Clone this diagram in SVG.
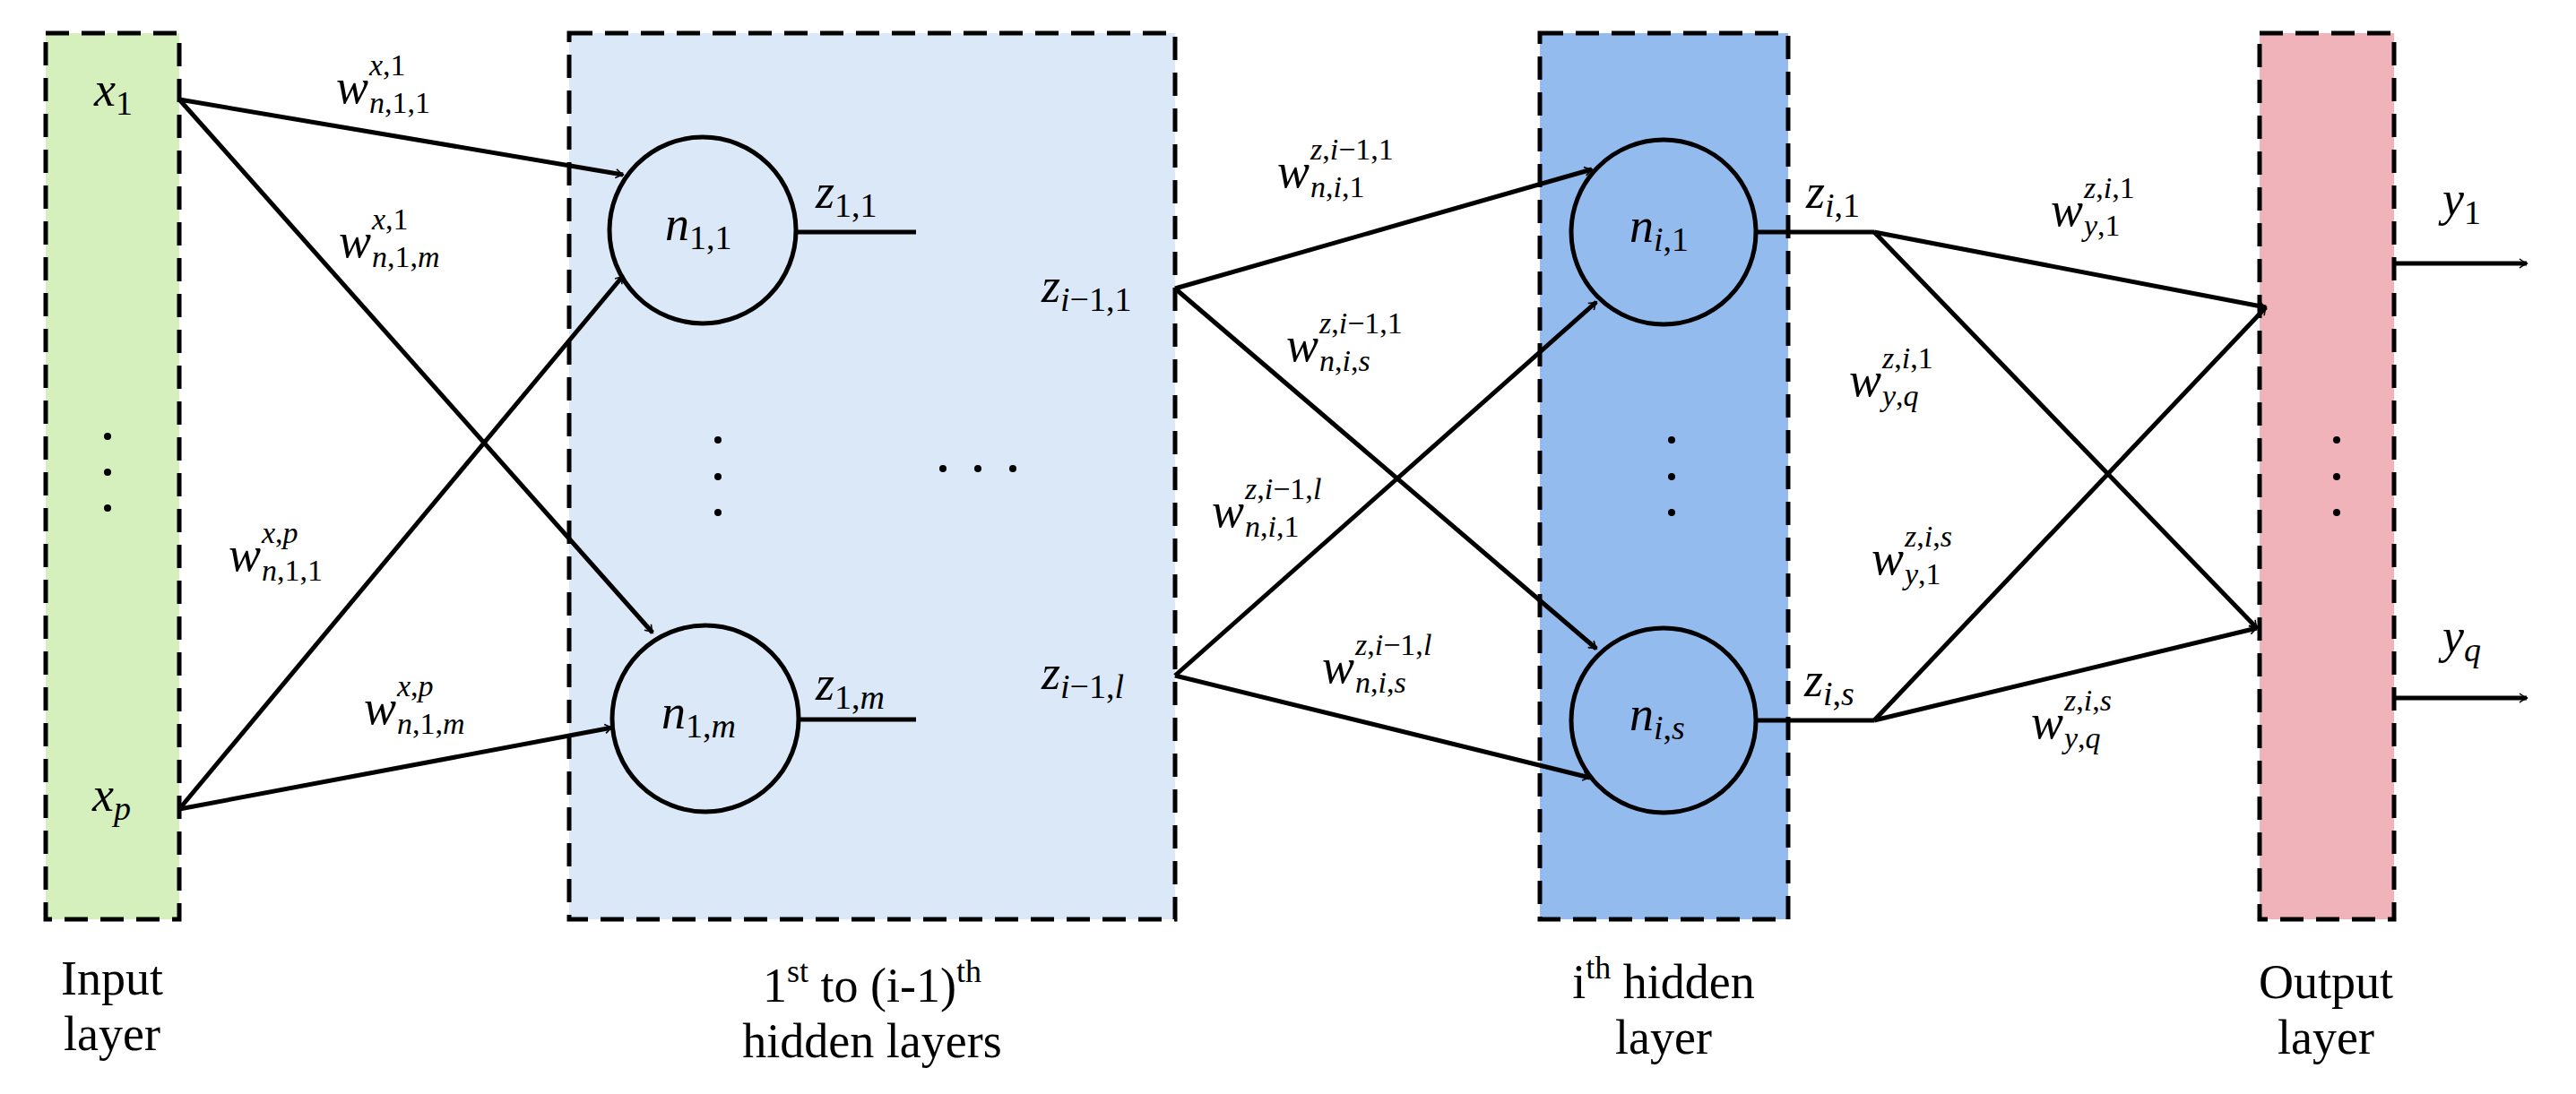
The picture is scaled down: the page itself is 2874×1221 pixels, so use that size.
<svg xmlns="http://www.w3.org/2000/svg" width="2874" height="1221" viewBox="0 0 2874 1221">
<style>
.box{stroke:#000;stroke-width:5;stroke-dasharray:26 14}
.ln{stroke:#000;stroke-width:5;fill:none}
.ar{stroke:#000;stroke-width:5;fill:none;marker-end:url(#ah)}
.nd{stroke:#000;stroke-width:5}
text{font-family:"Liberation Serif","DejaVu Serif",serif;fill:#000}
.m{font-size:54px;font-style:italic}
.s{font-size:38px;font-style:italic}
.t{font-size:34px;font-style:italic}
.r{font-style:normal}
.lb{font-size:54px;text-anchor:middle}
.dot{fill:#000}
</style>
<defs>
<marker id="ah" markerWidth="12" markerHeight="12" refX="9" refY="6" orient="auto" markerUnits="userSpaceOnUse" viewBox="0 0 12 12">
<path d="M1,1 Q6,5 10,6 Q6,7 1,11" fill="none" stroke="#000" stroke-width="1.6" transform="scale(1)"/>
</marker>
</defs>
<g id="input-layer">
<rect class="box" x="51" y="37" width="149" height="989" fill="#d5f0bd"/>
<text class="m" x="105" y="118">x<tspan class="s r" dy="10">1</tspan></text>
<text class="m" x="103" y="905">x<tspan class="s" dy="10">p</tspan></text>
<circle class="dot" cx="120" cy="487" r="4"/><circle class="dot" cx="120" cy="527" r="4"/><circle class="dot" cx="120" cy="567" r="4"/>
<text class="lb" x="125" y="1110">Input</text>
<text class="lb" x="125" y="1172">layer</text>
</g>
<g id="hidden-1">
<rect class="box" x="635" y="37" width="676" height="989" fill="#dbe8f8"/>
<circle class="dot" cx="801" cy="491" r="4"/><circle class="dot" cx="801" cy="532" r="4"/><circle class="dot" cx="801" cy="572" r="4"/>
<circle class="dot" cx="1052" cy="523" r="4"/><circle class="dot" cx="1091" cy="523" r="4"/><circle class="dot" cx="1130" cy="523" r="4"/>
<text class="m" x="910" y="232">z<tspan class="s r" dy="10">1,1</tspan></text>
<text class="m" x="910" y="781">z<tspan class="s" dy="10"><tspan class="r">1,</tspan>m</tspan></text>
<text class="m" x="1162" y="337">z<tspan class="s" dy="10">i<tspan class="r">−1,1</tspan></tspan></text>
<text class="m" x="1162" y="769">z<tspan class="s" dy="10">i<tspan class="r">−1,</tspan>l</tspan></text>
<text class="lb" x="973" y="1118">1<tspan font-size="36" dy="-22">st</tspan><tspan dy="22"> to (i-1)</tspan><tspan font-size="36" dy="-22">th</tspan></text>
<text class="lb" x="973" y="1180">hidden layers</text>
</g>
<g id="node-n11">
<circle class="nd" cx="784" cy="257" r="104" fill="#dbe8f8"/>
<text class="m" x="742" y="268">n<tspan class="s r" dy="10">1,1</tspan></text>
</g>
<g id="node-n1m">
<circle class="nd" cx="787" cy="802" r="104" fill="#dbe8f8"/>
<text class="m" x="738" y="813">n<tspan class="s" dy="10"><tspan class="r">1,</tspan>m</tspan></text>
</g>
<g id="hidden-i">
<rect class="box" x="1718" y="37" width="277" height="989" fill="#93bbed"/>
<circle class="dot" cx="1865" cy="491" r="4"/><circle class="dot" cx="1865" cy="532" r="4"/><circle class="dot" cx="1865" cy="572" r="4"/>
<text class="m" x="2015" y="232">z<tspan class="s" dy="10">i<tspan class="r">,1</tspan></tspan></text>
<text class="m" x="2013" y="777">z<tspan class="s" dy="10">i<tspan class="r">,</tspan>s</tspan></text>
<text class="lb" x="1856" y="1114">i<tspan font-size="36" dy="-22">th</tspan><tspan dy="22"> hidden</tspan></text>
<text class="lb" x="1856" y="1176">layer</text>
</g>
<g id="node-ni1">
<circle class="nd" cx="1856" cy="259" r="103" fill="#93bbed"/>
<text class="m" x="1818" y="270">n<tspan class="s" dy="10">i<tspan class="r">,1</tspan></tspan></text>
</g>
<g id="node-nis">
<circle class="nd" cx="1856" cy="804" r="103" fill="#93bbed"/>
<text class="m" x="1818" y="815">n<tspan class="s" dy="10">i<tspan class="r">,</tspan>s</tspan></text>
</g>
<g id="output-layer">
<rect class="box" x="2521" y="37" width="150" height="989" fill="#f0b3b9"/>
<circle class="dot" cx="2607" cy="491" r="4"/><circle class="dot" cx="2607" cy="532" r="4"/><circle class="dot" cx="2607" cy="572" r="4"/>
<text class="m" x="2725" y="240">y<tspan class="s r" dy="10">1</tspan></text>
<text class="m" x="2725" y="728">y<tspan class="s" dy="10">q</tspan></text>
<text class="lb" x="2595" y="1114">Output</text>
<text class="lb" x="2595" y="1176">layer</text>
</g>
<g id="connectors">
<line class="ar" x1="200" y1="111" x2="695" y2="195"/>
<line class="ar" x1="200" y1="111" x2="728" y2="706"/>
<line class="ar" x1="200" y1="903" x2="695" y2="308"/>
<line class="ar" x1="200" y1="903" x2="683" y2="812"/>
<line class="ln" x1="888" y1="259" x2="1022" y2="259"/>
<line class="ln" x1="891" y1="803" x2="1022" y2="803"/>
<line class="ar" x1="1311" y1="322" x2="1776" y2="189"/>
<line class="ar" x1="1311" y1="322" x2="1781" y2="724"/>
<line class="ar" x1="1311" y1="754" x2="1781" y2="337"/>
<line class="ar" x1="1311" y1="754" x2="1774" y2="868"/>
<line class="ln" x1="1959" y1="259" x2="2091" y2="259"/>
<line class="ln" x1="1959" y1="804" x2="2091" y2="804"/>
<line class="ar" x1="2091" y1="259" x2="2528" y2="343"/>
<line class="ar" x1="2091" y1="259" x2="2518" y2="701"/>
<line class="ar" x1="2091" y1="804" x2="2528" y2="343"/>
<line class="ar" x1="2091" y1="804" x2="2518" y2="701"/>
<line class="ar" x1="2671" y1="294" x2="2819" y2="294"/>
<line class="ar" x1="2671" y1="779" x2="2819" y2="779"/>
</g>
<g id="weight-labels">
<text class="m" x="375" y="115">w</text><text class="t" x="412" y="84">x<tspan class="r">,1</tspan></text><text class="t" x="412" y="126">n<tspan class="r">,1,1</tspan></text>
<text class="m" x="378" y="287">w</text><text class="t" x="415" y="256">x<tspan class="r">,1</tspan></text><text class="t" x="415" y="298">n<tspan class="r">,1,</tspan>m</text>
<text class="m" x="255" y="637">w</text><text class="t" x="292" y="606">x<tspan class="r">,</tspan>p</text><text class="t" x="292" y="648">n<tspan class="r">,1,1</tspan></text>
<text class="m" x="406" y="808">w</text><text class="t" x="443" y="777">x<tspan class="r">,</tspan>p</text><text class="t" x="443" y="819">n<tspan class="r">,1,</tspan>m</text>
<text class="m" x="1425" y="209">w</text><text class="t" x="1462" y="178">z<tspan class="r">,</tspan>i<tspan class="r">−1,1</tspan></text><text class="t" x="1462" y="220">n<tspan class="r">,</tspan>i<tspan class="r">,1</tspan></text>
<text class="m" x="1435" y="403">w</text><text class="t" x="1472" y="372">z<tspan class="r">,</tspan>i<tspan class="r">−1,1</tspan></text><text class="t" x="1472" y="414">n<tspan class="r">,</tspan>i<tspan class="r">,</tspan>s</text>
<text class="m" x="1352" y="588">w</text><text class="t" x="1389" y="557">z<tspan class="r">,</tspan>i<tspan class="r">−1,</tspan>l</text><text class="t" x="1389" y="599">n<tspan class="r">,</tspan>i<tspan class="r">,1</tspan></text>
<text class="m" x="1475" y="762">w</text><text class="t" x="1512" y="731">z<tspan class="r">,</tspan>i<tspan class="r">−1,</tspan>l</text><text class="t" x="1512" y="773">n<tspan class="r">,</tspan>i<tspan class="r">,</tspan>s</text>
<text class="m" x="2288" y="252">w</text><text class="t" x="2325" y="221">z<tspan class="r">,</tspan>i<tspan class="r">,1</tspan></text><text class="t" x="2325" y="263">y<tspan class="r">,1</tspan></text>
<text class="m" x="2063" y="442">w</text><text class="t" x="2100" y="411">z<tspan class="r">,</tspan>i<tspan class="r">,1</tspan></text><text class="t" x="2100" y="453">y<tspan class="r">,</tspan>q</text>
<text class="m" x="2088" y="641">w</text><text class="t" x="2125" y="610">z<tspan class="r">,</tspan>i<tspan class="r">,</tspan>s</text><text class="t" x="2125" y="652">y<tspan class="r">,1</tspan></text>
<text class="m" x="2266" y="824">w</text><text class="t" x="2303" y="793">z<tspan class="r">,</tspan>i<tspan class="r">,</tspan>s</text><text class="t" x="2303" y="835">y<tspan class="r">,</tspan>q</text>
</g>
</svg>
